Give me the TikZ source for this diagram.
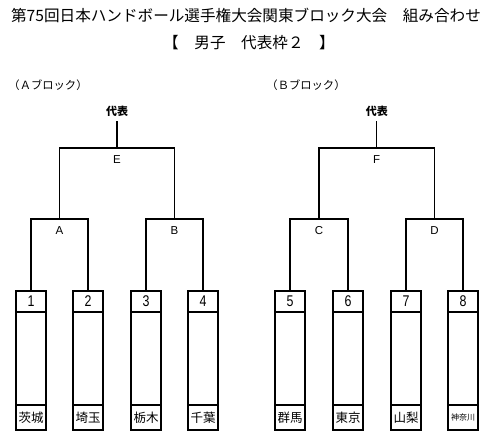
\documentclass[tikz,border=0pt]{standalone}
\usepackage{fontspec}
\setmainfont{Noto Sans CJK JP}
\newfontfamily\latinf{Liberation Sans}
\newfontfamily\narrowf[FakeStretch=0.8]{Liberation Sans}
\begin{document}
\begin{tikzpicture}[x=1pt,y=-1pt,line width=1.4pt,
  numbox/.style={draw,minimum width=30pt,minimum height=21pt,inner sep=0pt,font=\narrowf\fontsize{15.5}{15.5}\selectfont},
  midbox/.style={draw,minimum width=30pt,minimum height=93pt,inner sep=0pt},
  namebox/.style={draw,minimum width=30pt,minimum height=25pt,inner sep=0pt,font=\fontsize{12.5}{12.5}\selectfont},
  smallname/.style={font=\fontsize{8}{8}\selectfont},
  lbl/.style={inner sep=0pt,font=\latinf\fontsize{11.5}{11.5}\selectfont},
  rep/.style={inner sep=4pt,font=\bfseries\fontsize{11}{11}\selectfont},
  blk/.style={inner sep=0pt,font=\fontsize{11.3}{11.3}\selectfont},
  ttl/.style={inner sep=0pt,font=\fontsize{15.6}{16}\selectfont}]
\useasboundingbox (0,0) rectangle (500,446);
% titles
\node[ttl] (title1) at (246,15) {第75回日本ハンドボール選手権大会関東ブロック大会　組み合わせ};
\node[ttl] (title2) at (249,43) {【　男子　代表枠２　】};
\node[blk] (blockA) at (48,85) {（Ａブロック）};
\node[blk] (blockB) at (306,85) {（Ｂブロック）};
% team boxes
\foreach \i/\x/\t in {1/31/茨城,2/88/埼玉,3/146/栃木,4/203/千葉,5/290/群馬,6/348/東京,7/406/山梨}{
  \node[numbox] (n\i) at (\x,301.5) {\i};
  \node[midbox] (m\i) at (\x,358.5) {};
  \node[namebox] (t\i) at (\x,417.5) {\t};
}
\node[numbox] (n8) at (463,301.5) {8};
\node[midbox] (m8) at (463,358.5) {};
\node[namebox,smallname] (t8) at (463,417.5) {神奈川};
% junctions
\coordinate (jA) at (59.5,219);
\coordinate (jB) at (174.5,219);
\coordinate (jC) at (319,219);
\coordinate (jD) at (434.5,219);
\coordinate (jE) at (117,148);
\coordinate (jF) at (376.75,148);
% labels
\node[lbl] (lA) at (59.5,231) {A};
\node[lbl] (lB) at (174.5,231) {B};
\node[lbl] (lC) at (319,231) {C};
\node[lbl] (lD) at (434.5,231) {D};
\node[lbl] (lE) at (117,160) {E};
\node[lbl] (lF) at (376.75,160) {F};
\node[rep] (dA) at (117,111) {代表};
\node[rep] (dB) at (376.75,111) {代表};
% brackets
\draw (n1.north) |- (jA) -| (n2.north);
\draw (n3.north) |- (jB) -| (n4.north);
\draw (n5.north) |- (jC) -| (n6.north);
\draw (n7.north) |- (jD) -| (n8.north);
\draw (jA) |- (jE) -| (jB);
\draw (jC) |- (jF) -| (jD);
\draw (jE) -- (dA);
\draw (jF) -- (dB);
\end{tikzpicture}
\end{document}
